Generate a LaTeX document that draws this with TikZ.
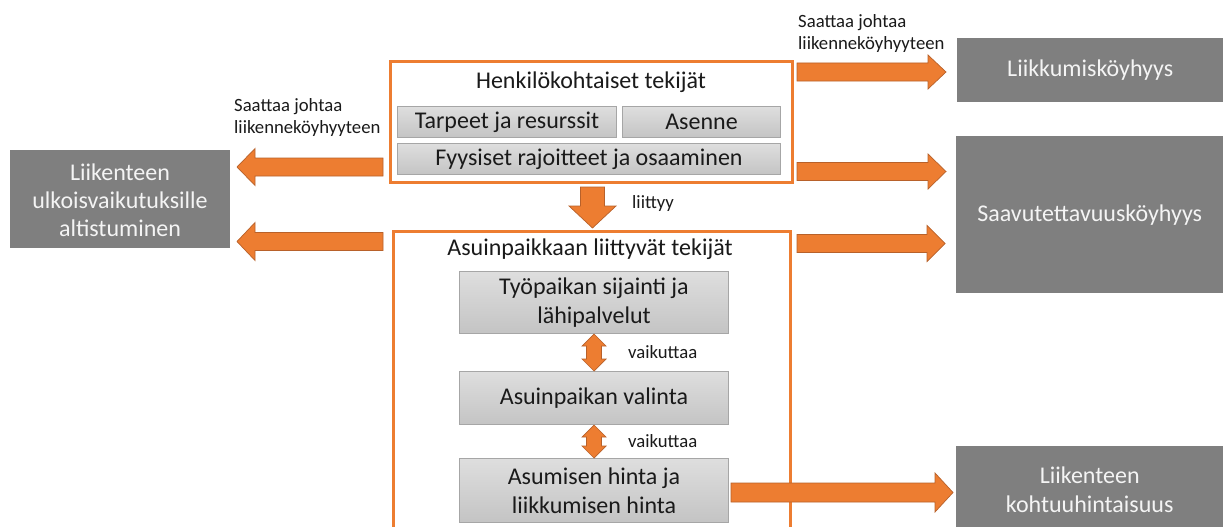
\documentclass[tikz,border=0pt]{standalone}
\usepackage{fontspec}
\setmainfont{Carlito}
\usetikzlibrary{calc}
\definecolor{orng}{HTML}{ED7D31}
\definecolor{orngdk}{HTML}{B8612A}
\definecolor{dgray}{HTML}{7F7F7F}
\definecolor{bord}{HTML}{A6A6A6}
\definecolor{gtop}{HTML}{DEDEDE}
\definecolor{gbot}{HTML}{C4C4C4}
\definecolor{txt}{HTML}{1A1A1A}
\definecolor{wtxt}{HTML}{F4F4F4}
\newcommand\bigfont{\fontsize{24}{29}\selectfont}
\newcommand\smallfont{\fontsize{18.7}{22.5}\selectfont}
\tikzset{
  arrowstyle/.style={fill=orng, draw=orngdk, line width=0.7pt, line join=miter},
  frame/.style={draw=orng, line width=3pt, fill=white, inner sep=0pt, anchor=north west},
  gbox/.style={draw=bord, line width=1pt, top color=gtop, bottom color=gbot, inner sep=0pt,
    anchor=north west, font=\bigfont, text=txt, align=center},
  dbox/.style={fill=dgray, inner sep=0pt, anchor=north west, font=\bigfont, text=wtxt, align=center},
  ttl/.style={font=\bigfont, text=txt, inner sep=0pt},
  lbl/.style={font=\smallfont, text=txt, inner sep=0pt, align=left}
}
% start, tip, shaft half, head half, head length
\newcommand\blockarrow[5]{%
  \coordinate (bab) at ($(#2)!#5!(#1)$);
  \filldraw[arrowstyle] ($(#1)!#3!90:(#2)$) -- ($(bab)!#3!90:(#2)$) -- ($(bab)!#4!90:(#2)$) -- (#2)
    -- ($(bab)!#4!-90:(#2)$) -- ($(bab)!#3!-90:(#2)$) -- ($(#1)!#3!-90:(#2)$) -- cycle;}
% end A, end B, shaft half, head half, head length
\newcommand\dblarrow[5]{%
  \coordinate (daa) at ($(#1)!#5!(#2)$);
  \coordinate (dab) at ($(#2)!#5!(#1)$);
  \filldraw[arrowstyle] (#1) -- ($(daa)!#4!90:(#2)$) -- ($(daa)!#3!90:(#2)$) -- ($(dab)!#3!-90:(#1)$)
    -- ($(dab)!#4!-90:(#1)$) -- (#2) -- ($(dab)!#4!90:(#1)$) -- ($(dab)!#3!90:(#1)$)
    -- ($(daa)!#3!-90:(#2)$) -- ($(daa)!#4!-90:(#2)$) -- cycle;}
\begin{document}
\begin{tikzpicture}[x=1pt,y=-1pt]
\useasboundingbox (0,0) rectangle (1223,527);
\clip (0,0) rectangle (1223,527);
\fill[white] (0,0) rectangle (1223,527);

% frames
\node[frame, minimum width=402, minimum height=121] (henk) at (389,60) {};
\node[ttl] (henkt) at (591,82) {Henkilökohtaiset tekijät};
\node[gbox, minimum width=219, minimum height=31] (tarp) at (397,106) {Tarpeet ja resurssit};
\node[gbox, minimum width=158, minimum height=31] (asen) at (622,106) {Asenne};
\node[gbox, minimum width=383, minimum height=31] (fyys) at (397,143) {Fyysiset rajoitteet ja osaaminen};

\node[frame, minimum width=397, minimum height=330] (asu) at (392,230) {};
\node[ttl] (asut) at (590,249) {Asuinpaikkaan liittyvät tekijät};
\node[gbox, minimum width=269, minimum height=62] (typ) at (459,271) {Työpaikan sijainti ja\\lähipalvelut};
\node[gbox, minimum width=269, minimum height=53] (val) at (459,371) {Asuinpaikan valinta};
\node[gbox, minimum width=269, minimum height=64] (asum) at (459,458) {Asumisen hinta ja\\liikkumisen hinta};

% outcome boxes
\node[dbox, minimum width=266, minimum height=64] (liikk) at (957,38) {Liikkumisköyhyys};
\node[dbox, minimum width=267, minimum height=157] (saav) at (956,136) {Saavutettavuusköyhyys};
\node[dbox, minimum width=267, minimum height=88] (kohtu) at (956,446) {Liikenteen\\kohtuuhintaisuus};
\node[dbox, minimum width=220, minimum height=98] (ulko) at (10,150) {};
\node[font=\fontsize{24}{28}\selectfont, text=wtxt, align=center, inner sep=0pt] (ulkot) at (120,200) {Liikenteen\\ulkoisvaikutuksille\\altistuminen};

% labels
\node[lbl, anchor=north west] (lblr) at (798,14) {Saattaa johtaa\\liikenneköyhyyteen};
\node[lbl, anchor=north west] (lbll) at (234,98) {Saattaa johtaa\\liikenneköyhyyteen};
\node[lbl, anchor=west] (liit) at (632,204) {liittyy};
\node[lbl, anchor=west] (vai1) at (628,352) {vaikuttaa};
\node[lbl, anchor=west] (vai2) at (628,441) {vaikuttaa};

% arrow end points
\coordinate (r1s) at (797,72);   \coordinate (r1t) at (946,72);
\coordinate (r2s) at (797,171.5); \coordinate (r2t) at (946,171.5);
\coordinate (r3s) at (797,243.5); \coordinate (r3t) at (945,243.5);
\coordinate (r4s) at (731,492.5); \coordinate (r4t) at (953,492.5);
\coordinate (l1s) at (383,167);  \coordinate (l1t) at (237,167);
\coordinate (l2s) at (383,241.5); \coordinate (l2t) at (237,241.5);
\coordinate (ds) at (592.5,187); \coordinate (dt) at (592.5,228);

\blockarrow{r1s}{r1t}{9pt}{17pt}{18pt}
\blockarrow{r2s}{r2t}{9pt}{17.5pt}{18pt}
\blockarrow{r3s}{r3t}{9pt}{18pt}{18pt}
\blockarrow{r4s}{r4t}{9.5pt}{19.5pt}{18pt}
\blockarrow{l1s}{l1t}{9pt}{18.5pt}{18pt}
\blockarrow{l2s}{l2t}{9pt}{19pt}{18pt}
\blockarrow{ds}{dt}{12pt}{23.5pt}{22pt}
\dblarrow{typ.south}{val.north}{7.5pt}{12pt}{12pt}
\dblarrow{val.south}{asum.north}{7.5pt}{12pt}{12pt}
\end{tikzpicture}
\end{document}
